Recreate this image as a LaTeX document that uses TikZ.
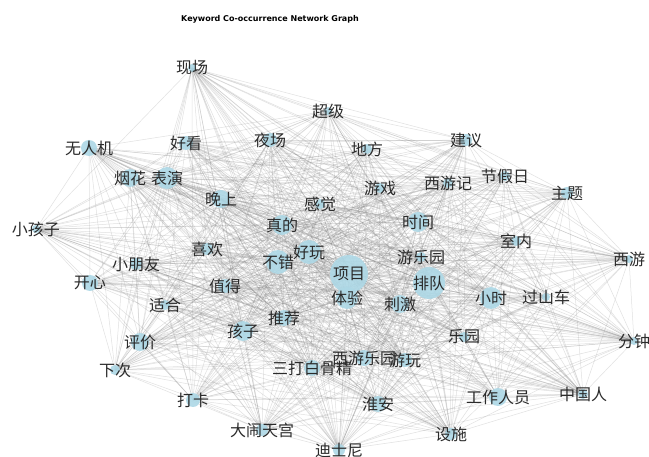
\documentclass[tikz,border=0pt]{standalone}
\usepackage{fontspec}
\setmainfont{Noto Sans CJK SC}
\newfontfamily\titlefont{DejaVu Sans}
\definecolor{nodeblue}{HTML}{ADD8E6}
\definecolor{labelgray}{HTML}{2A2A2A}
\pgfdeclarelayer{background}
\pgfsetlayers{background,main}
\tikzset{
  kw/.style={font=\fontsize{16}{16}\selectfont, text=labelgray, inner sep=0pt},
  edgeline/.style={draw=gray, opacity=0.24, line width=0.5pt},
  dotfill/.style={fill=nodeblue, fill opacity=0.9},
  titlestyle/.style={font=\titlefont\bfseries\fontsize{8}{8}\selectfont, text=black, inner sep=0pt}
}
\begin{document}
\begin{tikzpicture}[x=1pt,y=-1pt]
\useasboundingbox (0,0) rectangle (649,457);
\node[titlestyle] (title) at (270,19) {Keyword Co-occurrence Network Graph};
\foreach \i/\x/\y/\r/\t in {
 1/192/68/4/现场, 2/328/111/4/超级, 3/89/148/8/无人机, 4/186/143/7/好看,
 5/270/140/7/夜场, 6/367/149/5/地方, 7/466/140/6/建议, 8/130/178/9/烟花,
 9/167/178/11/表演, 10/221/199/9/晚上, 11/320/204/5/感觉, 12/380/188/5/游戏,
 13/448/183/5/西游记, 14/505/176/5/节假日, 15/567/193/6/主题, 16/36/229/4/小孩子,
 17/282/225/10/真的, 18/418/222/10/时间, 19/207/249/6/喜欢, 20/309/252/12/好玩,
 21/278/262/12/不错, 22/349/274/19/项目, 23/421/257/5/游乐园, 24/516/241/5/室内,
 25/629/259/4/西游, 26/136/264/6/小朋友, 27/90/283/8/开心, 28/225/286/7/值得,
 29/429/283/16/排队, 30/347/298/11/体验, 31/400/304/9/刺激, 32/491/298/11/小时,
 33/546/297/4/过山车, 34/165/305/5/适合, 35/284/318/8/推荐, 36/243/331/10/孩子,
 37/140/342/9/评价, 38/464/337/5/乐园, 39/634/341/4/分钟, 40/312/368/8/三打白骨精,
 41/364/358/8/西游乐园, 42/405/360/7/游玩, 43/115/370/5/下次, 44/193/400/7/打卡,
 45/378/404/8/淮安, 46/498/397/9/工作人员, 47/583/394/5/中国人, 48/262/430/6/大闹天宫,
 49/451/434/6/设施, 50/339/450/6/迪士尼}{
  \fill[dotfill] (\x,\y) circle[radius=\r pt];
  \node[kw] (n\i) at (\x,\y) {\t};
}
\pgfmathsetseed{7}
\begin{pgfonlayer}{background}
\fill[white] (0,0) rectangle (649,457);
\foreach \i in {1,...,50}{
  \foreach \j in {1,...,50}{
    \ifnum\j>\i\relax
      \pgfmathrandominteger{\rr}{1}{100}
      \ifnum\rr<71\relax
        \draw[edgeline] (n\i.center) -- (n\j.center);
      \fi
    \fi
  }
}
\end{pgfonlayer}
\end{tikzpicture}
\end{document}
